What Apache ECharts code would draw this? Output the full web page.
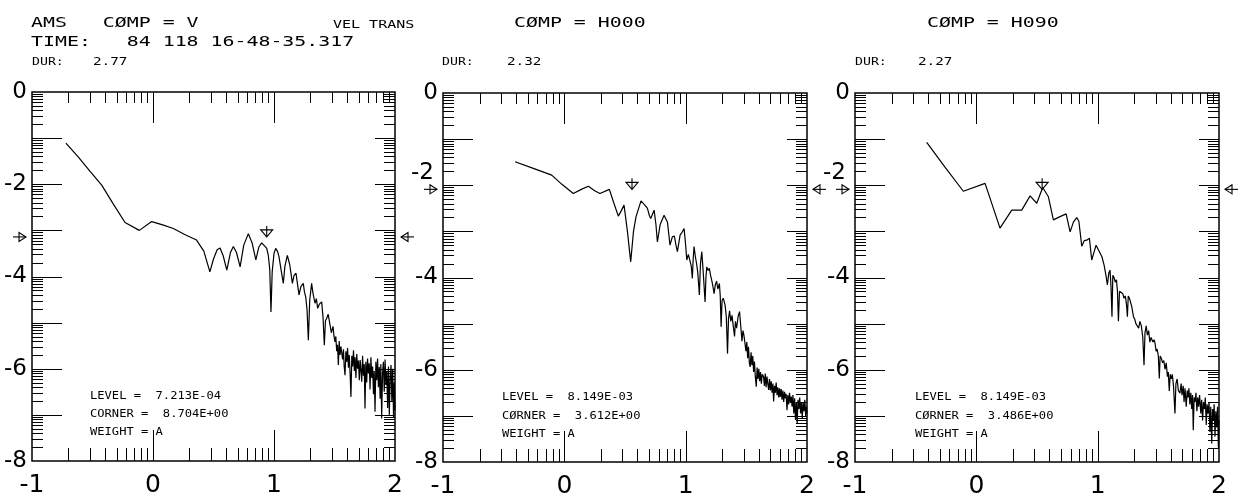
<!DOCTYPE html>
<html><head><meta charset="utf-8">
<script src="https://cdn.jsdelivr.net/npm/echarts@6/dist/echarts.min.js"></script>
<style>html,body{margin:0;padding:0;background:#fff}#c{width:1245px;height:502px}</style>
</head><body><div id="c"></div>
<script>
// ---------- data ----------
const xTickLabels = [-1, 0, 1, 2];
const yTickLabels = [0, -2, -4, -6, -8];
const components = ['V', 'H000', 'H090'];
const durations = ['2.77', '2.32', '2.27'];
const levels = [7.213e-4, 8.149e-3, 8.149e-3];
const levelText = ['7.213E-04', '8.149E-03', '8.149E-03'];
const corners = [8.704, 3.612, 3.486];
const cornerText = ['8.704E+00', '3.612E+00', '3.486E+00'];
const station = 'AMS';
const timeText = '84 118 16-48-35.317';
const unitsText = 'VEL TRANS';
const weightText = 'A';

// log10 frequency, log10 amplitude
const spectrumV = [
[-0.72,-1.11],[-0.62,-1.40],[-0.52,-1.72],[-0.424,-2.02],[-0.33,-2.42],[-0.231,-2.83],[-0.113,-3.00],[-0.011,-2.81],
[0.08,-2.88],[0.168,-2.96],[0.27,-3.10],[0.36,-3.21],[0.42,-3.45],[0.47,-3.90],[0.50,-3.62],[0.53,-3.42],[0.554,-3.38],
[0.58,-3.55],[0.61,-3.86],[0.64,-3.48],[0.664,-3.35],[0.69,-3.48],[0.72,-3.79],[0.75,-3.32],[0.788,-3.07],[0.82,-3.28],
[0.85,-3.64],[0.875,-3.36],[0.898,-3.27],[0.92,-3.33],[0.94,-3.39],[0.953,-3.54],[0.965,-3.85],[0.975,-4.77],[0.985,-3.90],
[1.0,-3.50],[1.014,-3.39],[1.03,-3.46],[1.041,-3.57],[1.06,-3.88],[1.077,-4.15],[1.09,-3.78],[1.11,-3.54],[1.13,-3.74],
[1.152,-4.15],[1.165,-3.98],[1.182,-3.93],[1.195,-4.18],[1.207,-4.40],[1.222,-4.22],[1.242,-4.15],[1.252,-4.34],[1.262,-4.44],
[1.273,-4.72],[1.284,-5.38],[1.295,-4.52],[1.311,-4.15],[1.322,-4.36],[1.339,-4.58],[1.350,-4.48],[1.361,-4.69],[1.375,-4.60],
[1.394,-4.55],[1.405,-4.88],[1.416,-5.49],[1.425,-4.96],[1.435,-4.91],[1.448,-4.82],[1.463,-5.05],[1.474,-5.22],[1.488,-5.08],
[1.496,-5.30],[1.504,-5.42],[1.511,-5.30],[1.518,-5.62],[1.525,-5.48],[1.532,-5.92],[1.539,-5.40],[1.546,-5.70],[1.553,-5.52],
[1.560,-5.49],[1.567,-5.80],[1.574,-5.58],[1.580,-5.95],[1.587,-6.14],[1.594,-5.62],[1.601,-5.85],[1.608,-5.55],[1.615,-5.98],
[1.622,-5.70],[1.629,-6.10],[1.636,-6.61],[1.643,-5.72],[1.650,-5.95],[1.657,-5.60],[1.664,-6.05],[1.670,-5.75],[1.677,-6.20],
[1.684,-5.68],[1.691,-6.00],[1.698,-5.82],[1.705,-6.25],[1.712,-5.81],[1.719,-6.05],[1.725,-6.28],[1.732,-5.72],[1.739,-6.15],
[1.746,-5.90],[1.752,-6.86],[1.759,-5.85],[1.766,-6.30],[1.773,-5.78],[1.780,-6.10],[1.787,-5.88],[1.794,-6.45],[1.801,-5.75],
[1.808,-6.20],[1.815,-5.95],[1.822,-6.55],[1.828,-6.05],[1.835,-6.93],[1.842,-5.85],[1.849,-6.25],[1.856,-5.78],[1.863,-6.40],
[1.870,-5.96],[1.877,-6.65],[1.883,-5.90],[1.890,-7.08],[1.897,-6.10],[1.904,-5.85],[1.911,-6.50],[1.918,-5.80],[1.925,-6.35],
[1.932,-6.05],[1.939,-6.85],[1.946,-5.95],[1.953,-7.00],[1.960,-6.20],[1.967,-5.92],[1.974,-6.70],[1.981,-6.00],[1.988,-7.05],
[1.994,-6.30],[2.000,-6.90]
];
const spectrumH000 = [
[-0.406,-1.49],[-0.25,-1.64],[-0.104,-1.78],[-0.02,-1.98],[0.074,-2.18],[0.14,-2.09],[0.198,-2.02],[0.25,-2.12],[0.294,-2.18],
[0.371,-2.09],[0.41,-2.40],[0.445,-2.67],[0.47,-2.55],[0.492,-2.43],[0.52,-3.00],[0.547,-3.66],[0.57,-3.00],[0.591,-2.68],
[0.632,-2.34],[0.66,-2.42],[0.685,-2.50],[0.70,-2.65],[0.712,-2.72],[0.74,-2.54],[0.755,-2.85],[0.767,-3.23],[0.79,-2.85],
[0.822,-2.65],[0.85,-2.80],[0.871,-3.30],[0.89,-3.12],[0.907,-3.10],[0.92,-3.30],[0.932,-3.44],[0.954,-3.08],[0.97,-3.02],
[0.987,-2.94],[1.0,-3.30],[1.009,-3.62],[1.022,-3.50],[1.036,-3.51],[1.046,-3.75],[1.055,-4.02],[1.062,-3.60],[1.069,-3.33],
[1.08,-3.55],[1.09,-3.70],[1.10,-3.90],[1.113,-4.38],[1.122,-3.70],[1.133,-3.44],[1.145,-3.90],[1.16,-4.53],[1.167,-4.00],
[1.174,-3.77],[1.185,-3.85],[1.195,-3.80],[1.205,-3.95],[1.215,-4.06],[1.225,-4.20],[1.234,-4.35],[1.245,-4.15],[1.255,-4.08],
[1.265,-4.25],[1.278,-4.13],[1.285,-4.40],[1.292,-5.07],[1.30,-4.50],[1.31,-4.45],[1.325,-4.60],[1.335,-4.85],[1.345,-5.65],
[1.353,-4.89],[1.362,-4.72],[1.372,-4.95],[1.382,-4.82],[1.392,-5.05],[1.403,-5.28],[1.41,-4.95],[1.42,-5.10],[1.432,-4.85],
[1.444,-4.74],[1.454,-5.05],[1.464,-5.38],[1.472,-5.15],[1.48,-5.25],[1.49,-5.45],[1.497,-5.60],[1.504,-5.40],[1.511,-5.75],
[1.518,-5.50],[1.525,-5.85],[1.532,-5.94],[1.539,-5.62],[1.546,-5.90],[1.553,-5.70],[1.560,-6.05],[1.567,-5.82],[1.574,-6.15],
[1.582,-6.37],[1.589,-5.95],[1.596,-6.20],[1.603,-5.98],[1.610,-6.25],[1.617,-6.05],[1.624,-6.30],[1.631,-6.10],[1.642,-6.15],
[1.649,-6.35],[1.656,-6.08],[1.663,-6.38],[1.670,-6.15],[1.677,-6.30],[1.684,-6.44],[1.691,-6.20],[1.698,-6.45],[1.705,-6.25],
[1.712,-6.50],[1.719,-6.30],[1.725,-6.69],[1.732,-6.35],[1.739,-6.50],[1.746,-6.28],[1.753,-6.55],[1.760,-6.38],[1.767,-6.60],
[1.774,-6.40],[1.780,-6.59],[1.787,-6.42],[1.794,-6.65],[1.801,-6.45],[1.808,-6.70],[1.815,-6.48],[1.822,-6.62],[1.828,-6.52],
[1.835,-6.88],[1.842,-6.55],[1.849,-6.75],[1.856,-6.50],[1.863,-6.72],[1.870,-6.58],[1.877,-6.80],[1.884,-6.55],[1.891,-6.95],
[1.898,-6.62],[1.905,-7.09],[1.912,-6.70],[1.919,-7.17],[1.926,-6.65],[1.933,-6.85],[1.940,-6.60],[1.947,-6.95],[1.954,-6.70],
[1.961,-7.05],[1.968,-6.72],[1.975,-6.90],[1.982,-6.65],[1.989,-7.00],[1.995,-6.80],[2.000,-6.95]
];
const spectrumH090 = [
[-0.409,-1.07],[-0.26,-1.60],[-0.107,-2.13],[0.072,-1.96],[0.195,-2.93],[0.292,-2.54],[0.374,-2.54],[0.443,-2.23],[0.498,-2.39],
[0.547,-2.05],[0.594,-2.25],[0.635,-2.75],[0.69,-2.68],[0.74,-2.62],[0.773,-3.01],[0.80,-2.80],[0.828,-2.70],[0.845,-2.78],
[0.869,-3.32],[0.89,-3.20],[0.91,-3.19],[0.932,-3.15],[0.951,-3.62],[0.97,-3.45],[0.987,-3.30],[1.01,-3.42],[1.035,-3.55],
[1.053,-3.73],[1.068,-3.95],[1.08,-4.16],[1.092,-3.90],[1.102,-3.84],[1.11,-4.20],[1.118,-4.85],[1.125,-3.95],[1.135,-4.00],
[1.145,-4.10],[1.155,-4.05],[1.163,-4.30],[1.171,-4.95],[1.18,-4.30],[1.19,-4.32],[1.207,-4.35],[1.217,-4.45],[1.228,-4.40],
[1.238,-4.60],[1.245,-4.85],[1.252,-4.40],[1.262,-4.45],[1.281,-4.63],[1.295,-4.85],[1.305,-4.90],[1.315,-5.00],[1.327,-5.00],
[1.338,-5.10],[1.348,-4.95],[1.36,-5.05],[1.372,-5.30],[1.382,-5.90],[1.39,-5.20],[1.40,-5.05],[1.41,-5.25],[1.42,-5.15],
[1.43,-5.40],[1.44,-5.30],[1.455,-5.40],[1.465,-5.35],[1.473,-5.43],[1.482,-5.60],[1.49,-5.55],[1.50,-5.70],[1.508,-6.19],
[1.515,-5.70],[1.525,-5.75],[1.535,-5.85],[1.545,-5.80],[1.555,-5.99],[1.565,-5.85],[1.575,-6.15],[1.582,-6.05],[1.59,-6.46],
[1.598,-6.10],[1.607,-6.20],[1.615,-6.10],[1.625,-6.35],[1.637,-6.95],[1.645,-6.30],[1.655,-6.20],[1.665,-6.45],[1.678,-6.51],
[1.688,-6.30],[1.695,-6.55],[1.705,-6.35],[1.712,-6.70],[1.72,-6.40],[1.73,-6.80],[1.738,-6.45],[1.745,-6.60],[1.752,-6.40],
[1.76,-6.75],[1.768,-6.50],[1.775,-6.85],[1.782,-6.55],[1.788,-7.31],[1.795,-6.60],[1.802,-6.70],[1.81,-6.50],[1.818,-6.90],
[1.825,-6.60],[1.832,-6.80],[1.84,-6.55],[1.85,-6.95],[1.857,-6.65],[1.865,-7.10],[1.872,-6.70],[1.88,-6.85],[1.887,-6.60],
[1.895,-7.20],[1.902,-6.75],[1.91,-6.95],[1.918,-6.70],[1.925,-7.35],[1.932,-6.80],[1.94,-7.60],[1.947,-6.85],[1.954,-7.10],
[1.96,-6.75],[1.967,-7.45],[1.974,-6.90],[1.981,-7.25],[1.988,-6.80],[1.995,-7.69],[2.0,-7.10]
];
const spectra = [spectrumV, spectrumH000, spectrumH090];

// ---------- layout ----------
const grids = [
  {left: 32, top: 92, width: 363, height: 369},
  {left: 443, top: 93, width: 364, height: 369},
  {left: 855, top: 93, width: 364, height: 369}
];

// log-cycle tick positions on both axes
const ticks = [];
[-1, 0, 1].forEach(d => { for (let k = 2; k <= 9; k++) ticks.push({axis: 'x', v: d + Math.log10(k), major: false}); });
[0, 1].forEach(v => ticks.push({axis: 'x', v: v, major: true}));
for (let n = 0; n < 8; n++) { for (let k = 2; k <= 9; k++) ticks.push({axis: 'y', v: -n - 1 + Math.log10(k), major: false}); }
for (let n = 1; n <= 7; n++) ticks.push({axis: 'y', v: -n, major: true});

const st = {stroke: '#000', lineWidth: 1};
function tickRender(params, api) {
  const t = ticks[params.dataIndex];
  const cs = params.coordSys;
  const L = cs.x, R = cs.x + cs.width, T = cs.y, B = cs.y + cs.height;
  if (t.axis === 'x') {
    const p = Math.round(api.coord([t.v, -4])[0]) + 0.5;
    const lt = t.major ? 31 : 11, lb = t.major ? 31 : 13;
    return {type: 'group', children: [
      {type: 'line', shape: {x1: p, y1: T, x2: p, y2: T + lt}, style: st},
      {type: 'line', shape: {x1: p, y1: B, x2: p, y2: B - lb}, style: st}]};
  }
  const p = Math.round(api.coord([0, t.v])[1]) + 0.5;
  const ll = t.major ? 30 : 11, lr = t.major ? 20 : 11;
  return {type: 'group', children: [
    {type: 'line', shape: {x1: L, y1: p, x2: L + ll, y2: p}, style: st},
    {type: 'line', shape: {x1: R, y1: p, x2: R - lr, y2: p}, style: st}]};
}

function markerRender(params, api) {
  const m = params.dataIndex; // 0 down arrow at corner, 1 left arrow, 2 right arrow
  const pt = api.coord([api.value(0), api.value(1)]);
  const x = pt[0], y = pt[1];
  const s = {stroke: '#000', lineWidth: 1.1, fill: null};
  if (m === 0) {
    return {type: 'group', children: [
      {type: 'line', shape: {x1: x, y1: y - 11, x2: x, y2: y}, style: s},
      {type: 'polygon', shape: {points: [[x - 6, y - 7], [x + 6, y - 7], [x, y]]}, style: s}]};
  }
  if (m === 1) {
    const tx = x - 6;
    return {type: 'group', children: [
      {type: 'line', shape: {x1: tx - 13, y1: y, x2: tx, y2: y}, style: s},
      {type: 'polygon', shape: {points: [[tx - 7, y - 4.5], [tx - 7, y + 4.5], [tx, y]]}, style: s}]};
  }
  const tx = x + 6;
  return {type: 'group', children: [
    {type: 'line', shape: {x1: tx, y1: y, x2: tx + 13, y2: y}, style: s},
    {type: 'polygon', shape: {points: [[tx + 7, y - 4.5], [tx + 7, y + 4.5], [tx, y]]}, style: s}]};
}

const labelFont = 'DejaVu Sans';
const option = {
  animation: false,
  backgroundColor: '#fff',
  grid: grids.map(g => ({left: g.left, top: g.top, width: g.width, height: g.height, show: true,
    borderColor: '#000', borderWidth: 1.5, backgroundColor: 'transparent', containLabel: false})),
  xAxis: grids.map((g, i) => ({type: 'value', gridIndex: i, min: xTickLabels[0], max: xTickLabels[xTickLabels.length - 1], interval: 1,
    axisLine: {show: false}, axisTick: {show: false}, splitLine: {show: false},
    axisLabel: {fontFamily: labelFont, fontSize: 25, color: '#000', margin: 12, showMinLabel: true, showMaxLabel: true}})),
  yAxis: grids.map((g, i) => ({type: 'value', gridIndex: i, min: yTickLabels[yTickLabels.length - 1], max: yTickLabels[0], interval: 2,
    axisLine: {show: false}, axisTick: {show: false}, splitLine: {show: false},
    axisLabel: {fontFamily: labelFont, fontSize: 23, color: '#000', margin: 5,
      formatter: v => (i > 0 && v === -2) ? '{up|-2}' : String(v),
      rich: {up: {fontFamily: labelFont, fontSize: 23, color: '#000', padding: [0, 4, 24, 0]}}}})),
  series: [],
  graphic: []
};

spectra.forEach((d, i) => {
  option.series.push({type: 'line', xAxisIndex: i, yAxisIndex: i, data: d, showSymbol: false, symbol: 'none',
    lineStyle: {color: '#000', width: 1.2}, clip: true, z: 3});
  option.series.push({type: 'custom', xAxisIndex: i, yAxisIndex: i, renderItem: tickRender,
    data: ticks.map(t => [t.axis === 'x' ? t.v : 0, t.axis === 'y' ? t.v : -4]), z: 2, silent: true});
  const lx = Math.log10(corners[i]), ly = Math.log10(levels[i]);
  option.series.push({type: 'custom', xAxisIndex: i, yAxisIndex: i, renderItem: markerRender,
    data: [[lx, ly], [-1, ly], [2, ly]], z: 4, silent: true, clip: false});
});

function txt(s, x, y, size, sx) {
  return {type: 'text', x: x, y: y, scaleX: sx, z: 10,
    style: {text: s, font: size + 'px "DejaVu Sans Mono"', fill: '#000', textAlign: 'left', textVerticalAlign: 'middle', align: 'left', verticalAlign: 'middle'}};
}
const headX = [31, 514, 927];
const durX = [[32, 93], [442, 507], [855, 918]];
const inX = [90, 502, 915];
const inY = [[396, 414, 432.5], [397.5, 416, 434], [397.5, 416, 434]];
const cornerWord = ['CORNER', 'CØRNER', 'CØRNER'];
components.forEach((c, i) => {
  const head = (i === 0 ? station + '   ' : '') + 'CØMP = ' + c;
  option.graphic.push(txt(head, headX[i], 23, 14, 1.42));
  option.graphic.push(txt('DUR:', durX[i][0], 62, 11, 1.2));
  option.graphic.push(txt(durations[i], durX[i][1], 62, 11, 1.3));
  option.graphic.push(txt('LEVEL =  ' + levelText[i], inX[i], inY[i][0], 11, 1.1));
  option.graphic.push(txt(cornerWord[i] + ' =  ' + cornerText[i], inX[i], inY[i][1], 11, 1.1));
  option.graphic.push(txt('WEIGHT = ' + weightText, inX[i], inY[i][2], 11, 1.1));
});
option.graphic.push(txt(unitsText, 333, 25, 10, 1.5));
option.graphic.push(txt('TIME:   ' + timeText, 31, 42.5, 14, 1.42));

const chart = echarts.init(document.getElementById('c'), null, {renderer: 'canvas'});
chart.setOption(option);
</script></body></html>
